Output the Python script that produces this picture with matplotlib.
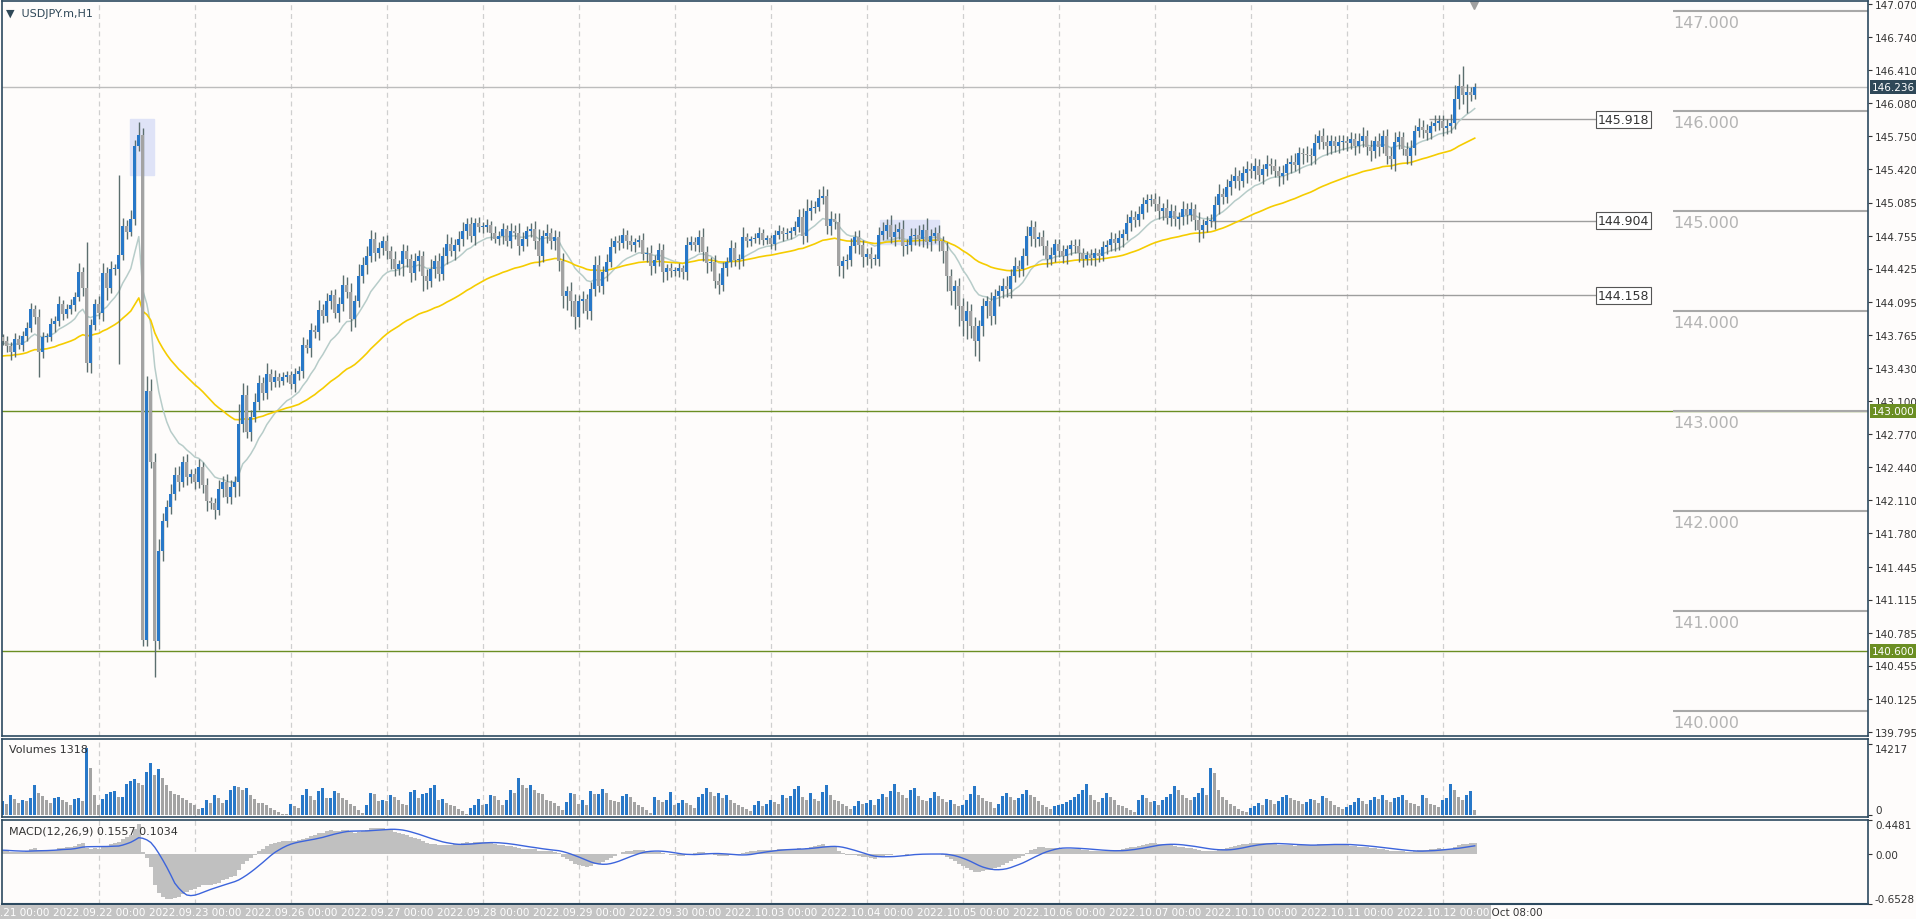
import numpy as np
import pandas as pd
import matplotlib
matplotlib.use("Agg")
import matplotlib.pyplot as plt
from matplotlib.patches import Rectangle

# ---- data (hourly closes) ----
closes = [
    143.70,143.65,143.59,143.72,143.66,143.75,143.83,144.02,143.94,143.59,143.74,143.74,143.87,143.90,144.07,143.97,144.02,144.06,144.14,144.39,144.23,143.48,143.86,144.07,
    143.98,144.38,144.23,144.42,144.42,144.56,144.85,144.79,144.92,145.65,145.76,140.71,143.20,142.49,140.70,141.60,141.90,142.04,142.17,142.36,142.29,142.49,142.34,142.37,
    142.29,142.44,142.26,142.10,142.08,142.01,142.22,142.29,142.14,142.24,142.29,142.87,143.16,142.79,142.94,143.09,143.28,143.18,143.37,143.29,143.34,143.30,143.34,143.36,
    143.27,143.37,143.40,143.66,143.63,143.81,143.79,144.01,143.95,144.10,144.16,143.98,144.07,144.26,144.19,143.92,144.10,144.35,144.46,144.55,144.72,144.58,144.63,144.70,
    144.60,144.52,144.42,144.47,144.60,144.52,144.38,144.50,144.55,144.35,144.30,144.42,144.50,144.37,144.55,144.67,144.60,144.66,144.72,144.80,144.87,144.75,144.88,144.84,
    144.84,144.86,144.78,144.72,144.75,144.82,144.70,144.80,144.78,144.65,144.72,144.80,144.82,144.70,144.55,144.75,144.78,144.70,144.74,144.50,144.15,144.20,144.10,143.94,
    144.10,144.12,144.00,144.22,144.46,144.25,144.39,144.49,144.64,144.70,144.68,144.76,144.70,144.66,144.69,144.71,144.57,144.58,144.45,144.51,144.61,144.39,144.43,144.40,
    144.40,144.43,144.39,144.66,144.69,144.66,144.74,144.59,144.48,144.49,144.30,144.26,144.43,144.49,144.63,144.51,144.52,144.74,144.70,144.72,144.73,144.78,144.71,144.73,
    144.67,144.76,144.80,144.77,144.78,144.80,144.84,144.94,144.75,145.00,145.03,145.04,145.13,145.15,144.85,144.92,144.89,144.45,144.50,144.51,144.65,144.74,144.66,144.54,
    144.57,144.52,144.52,144.76,144.80,144.86,144.74,144.79,144.82,144.65,144.66,144.75,144.76,144.72,144.81,144.69,144.75,144.78,144.70,144.60,144.35,144.20,144.25,144.05,
    143.90,144.00,143.85,143.70,143.85,144.05,144.10,143.95,144.15,144.20,144.25,144.22,144.35,144.45,144.42,144.55,144.75,144.84,144.72,144.74,144.65,144.52,144.56,144.67,
    144.60,144.55,144.62,144.66,144.65,144.58,144.52,144.56,144.53,144.58,144.55,144.64,144.66,144.72,144.68,144.73,144.77,144.88,144.94,144.91,144.97,145.07,145.11,145.12,
    145.07,145.00,145.03,144.93,145.00,144.92,144.94,145.02,144.96,145.02,144.91,144.81,144.86,144.90,144.90,145.06,145.17,145.14,145.24,145.30,145.35,145.30,145.38,145.42,
    145.40,145.45,145.36,145.42,145.47,145.45,145.40,145.35,145.38,145.47,145.49,145.46,145.58,145.57,145.56,145.55,145.68,145.75,145.69,145.65,145.70,145.65,145.69,145.70,
    145.68,145.72,145.65,145.70,145.75,145.64,145.60,145.70,145.64,145.75,145.55,145.52,145.69,145.74,145.62,145.55,145.63,145.80,145.84,145.81,145.78,145.85,145.88,145.90,
    145.83,145.85,145.88,146.12,146.25,146.16,146.19,146.16,146.236,
]
# closes of the bars before the visible window (only feed the moving averages / MACD)
prior_closes = [
    143.20,143.25,143.30,143.22,143.28,143.35,143.40,143.32,143.38,143.45,143.50,143.42,143.48,143.55,143.60,143.52,
    143.45,143.40,143.48,143.55,143.62,143.58,143.50,143.45,143.52,143.60,143.68,143.62,143.55,143.60,143.66,143.70,
    143.64,143.58,143.62,143.68,143.72,143.66,143.60,143.65,143.70,143.76,143.68,143.62,143.66,143.72,143.68,143.74,
]
up_wick = [  # pips above body
    3,5,4,6,4,5,6,6,4,8,5,4,6,5,8,4,5,6,5,9,5,46,6,5,
    8,10,6,8,5,80,8,6,9,6,13,7,15,12,9,12,8,7,10,8,9,6,8,5,
    6,8,5,7,4,5,9,6,8,7,6,20,12,10,7,9,8,6,11,5,7,4,5,4,
    4,6,5,8,6,7,5,10,6,8,5,6,7,10,8,9,6,12,8,10,9,7,6,5,
    6,5,8,4,7,6,5,8,6,5,7,10,6,8,9,10,7,6,8,9,6,7,5,6,
    5,6,4,7,5,6,4,8,6,10,7,5,6,8,12,6,9,5,7,6,8,5,9,7,
    6,8,5,7,9,10,6,8,9,5,6,7,5,6,4,5,7,6,8,5,7,6,4,5,
    4,5,3,8,6,5,7,9,6,5,7,8,6,5,8,6,5,10,4,3,5,6,4,3,
    3,5,6,4,5,4,6,8,9,12,8,6,9,10,7,8,6,9,5,6,8,6,7,5,
    6,7,5,8,9,6,10,8,7,9,6,8,7,10,6,12,7,6,8,5,9,7,6,8,
    8,10,7,9,6,8,5,9,7,6,8,10,7,9,6,8,10,7,6,5,7,6,8,5,
    5,6,4,5,6,7,5,4,6,5,4,6,5,7,6,8,5,9,7,6,8,7,6,5,
    6,8,5,9,7,6,5,8,6,7,5,8,6,5,7,9,10,6,8,7,9,6,7,8,
    6,8,7,5,9,6,7,5,8,6,7,9,6,5,8,7,9,6,8,7,6,5,7,6,
    5,7,6,8,9,6,7,5,8,6,7,9,10,6,5,7,8,6,9,7,6,5,8,6,
    6,7,9,14,12,20,8,5,4,
]
dn_wick = [  # pips below body
    4,6,8,5,4,6,5,4,7,25,6,5,4,8,5,6,4,5,6,4,8,9,10,5,
    6,8,12,5,6,95,5,7,4,6,5,6,6,6,36,8,10,6,7,6,9,5,8,6,
    7,6,8,10,6,9,5,8,6,7,10,14,8,6,9,5,8,7,6,8,5,6,4,5,
    5,8,6,7,5,9,6,8,7,6,8,5,9,7,6,12,8,6,7,9,6,8,5,7,
    8,10,7,6,12,8,9,7,10,15,8,6,9,7,6,8,5,9,6,7,8,6,9,5,
    6,5,7,4,6,8,5,7,6,9,5,7,6,8,10,6,7,8,9,10,12,14,15,12,
    10,12,8,9,7,6,8,9,5,6,7,5,8,6,7,5,6,8,9,7,6,10,8,6,
    5,6,7,8,5,6,7,9,10,8,7,9,6,8,5,6,9,7,6,5,4,6,5,4,
    5,6,4,7,5,6,4,5,8,6,9,5,4,6,8,9,7,10,12,8,6,7,9,10,
    8,9,6,7,5,8,6,9,7,10,8,6,9,7,8,6,9,7,10,12,15,14,18,20,
    15,18,12,15,20,10,12,9,8,10,7,8,9,6,8,7,9,10,8,7,9,8,6,7,
    6,7,8,6,7,9,8,6,7,8,6,5,7,6,8,7,9,6,8,7,6,5,8,6,
    7,8,9,6,8,7,10,8,9,6,10,12,8,7,6,8,9,7,6,8,7,9,6,10,
    7,8,6,9,7,8,6,10,8,7,9,6,8,10,7,9,8,6,7,9,8,6,7,8,
    8,6,9,7,6,8,10,7,9,6,8,10,12,7,6,8,9,7,6,8,7,6,5,7,
    8,6,7,6,10,9,18,6,4,
]
volumes_h = [  # tick volume / 100
    28,22,40,32,25,30,28,34,60,45,38,30,24,34,36,30,26,20,32,35,28,135,95,40,
    20,32,42,46,48,36,36,62,68,72,64,60,86,105,80,92,75,60,48,42,40,35,30,25,
    20,12,15,30,25,40,35,25,30,50,58,56,50,55,40,32,25,24,20,14,10,6,3,2,
    22,18,15,40,52,38,30,48,55,34,34,48,45,35,30,22,18,10,5,20,45,42,28,30,
    28,40,36,30,22,20,46,50,35,42,45,55,60,30,32,25,20,18,12,8,2,15,20,32,
    20,22,40,38,30,20,30,50,45,75,60,55,60,50,44,42,30,28,24,18,10,26,44,42,
    22,30,20,48,42,42,52,45,30,28,26,38,42,36,26,20,16,10,5,36,30,26,30,46,
    20,24,30,25,20,14,36,42,55,46,38,44,34,40,30,24,20,16,12,8,20,28,18,22,
    30,26,22,40,35,38,52,58,36,30,44,32,28,46,60,40,30,28,22,18,12,18,28,22,
    24,30,20,32,42,36,48,62,46,40,34,50,55,38,30,28,34,46,38,32,26,30,22,18,
    20,30,42,58,40,34,28,26,15,22,38,45,36,30,34,42,50,40,36,28,20,16,12,18,
    20,22,26,30,36,42,50,62,40,30,26,34,44,36,30,20,18,14,10,6,30,40,35,26,
    28,20,30,36,42,58,50,40,34,30,36,44,54,40,95,85,50,36,30,22,18,12,8,6,
    14,18,24,20,32,30,22,28,36,40,34,30,28,22,26,32,30,24,38,34,28,20,16,12,
    16,20,26,34,28,22,30,36,32,40,30,26,34,36,40,30,24,22,18,40,34,22,20,16,
    30,34,62,50,36,30,40,48,10,
]
day_labels = ["2022.09.21", "2022.09.22", "2022.09.23", "2022.09.26", "2022.09.27", "2022.09.28",
              "2022.09.29", "2022.09.30", "2022.10.03", "2022.10.04", "2022.10.05", "2022.10.06",
              "2022.10.07", "2022.10.10", "2022.10.11", "2022.10.12"]
mid_labels = ["21 Sep", "22 Sep", "23 Sep", "26 Sep", "27 Sep", "28 Sep", "29 Sep", "30 Sep",
              "3 Oct", "4 Oct", "5 Oct", "6 Oct", "7 Oct", "10 Oct", "11 Oct"]
price_ticks = [147.070, 146.740, 146.410, 146.080, 145.750, 145.420, 145.085, 144.755, 144.425,
               144.095, 143.765, 143.430, 143.100, 142.770, 142.440, 142.110, 141.780, 141.445,
               141.115, 140.785, 140.455, 140.125, 139.795]
round_levels = [147, 146, 145, 144, 143, 142, 141, 140]
level_lines = [(145.918, 356.6), (144.904, 301.8), (144.158, 250.0)]
bid = 146.236
green_levels = [143.000, 140.600]

# ---- derived series ----
c = np.array(closes)
n = len(c)
o = np.concatenate([[prior_closes[-1]], c[:-1]])
hi = np.maximum(o, c) + np.array(up_wick) / 100
lo = np.minimum(o, c) - np.array(dn_wick) / 100
vol = np.array(volumes_h) * 100
full = pd.Series(list(prior_closes) + closes)
ma_fast = full.ewm(span=14, adjust=False).mean().values[-n:]
ma_slow = full.ewm(span=50, adjust=False).mean().values[-n:]
macd = (full.ewm(span=12, adjust=False).mean() - full.ewm(span=26, adjust=False).mean())
signal = macd.rolling(9).mean()
macd = macd.values[-n:]
signal = signal.values[-n:]
x = np.arange(n)

BG = "#fefcfb"
BULL = "#2878c8"
BEAR = "#a3a3a3"
WICK = "#5b6e6e"
FRAME = "#2d4a60"
W, H = 1916, 920

fig = plt.figure(figsize=(W / 100, H / 100), dpi=100, facecolor=BG)
plt.rcParams["font.family"] = ["DejaVu Sans"]


def px_axes(x0, y0, x1, y1):
    return fig.add_axes([x0 / W, 1 - y1 / H, (x1 - x0) / W, (y1 - y0) / H], facecolor=BG)


ax = px_axes(2, 2, 1868, 737)
axv = px_axes(2, 740, 1868, 818)
axm = px_axes(2, 821, 1868, 905)
XMAX = (1868 - 2.7) / 4
for a in (ax, axv, axm):
    a.set_xlim(-0.2, XMAX)
    for s in a.spines.values():
        s.set_color(FRAME)
        s.set_linewidth(1.2)
    a.yaxis.tick_right()
    a.tick_params(axis="y", labelsize=7.5, length=3, colors="#333333", pad=2)
    a.tick_params(axis="x", length=0, labelbottom=False)
    for d in range(1, len(day_labels)):
        a.axvline(d * 24, color="#cfcfcf", lw=0.9, ls=(0, (4, 3)), zorder=0)
axm.spines["bottom"].set_linewidth(1.5)

# ---- main price panel ----
ax.set_ylim(139.75, 147.10)
ax.set_yticks(price_ticks)
ax.set_yticklabels([f"{t:.3f}" for t in price_ticks])

ax.add_patch(Rectangle((31.8, 145.36), 6.0, 0.56, color="#dfe3f7", zorder=1))
ax.add_patch(Rectangle((219.3, 144.67), 14.7, 0.24, color="#dfe3f7", zorder=1))

up = c >= o
ax.vlines(x, lo, hi, color=WICK, lw=1, zorder=3)
body = np.where(np.abs(c - o) < 0.012, 0.012, np.abs(c - o))
ax.bar(x, body, bottom=np.minimum(o, c), width=0.72, color=np.where(up, BULL, BEAR), zorder=4, linewidth=0)
ax.plot(x, ma_fast, color="#b7ccc9", lw=1.1, zorder=2)
ax.plot(x, ma_slow, color="#f5cc00", lw=1.2, zorder=2)

ax.axhline(bid, color="#bdbdbd", lw=1, zorder=1)
for g in green_levels:
    ax.axhline(g, color="#6b8e23", lw=1, zorder=1)

x_round = (1673 - 2.7) / 4
for r in round_levels:
    ax.hlines(r, x_round, XMAX, color="#a8a8a8", lw=1.5, zorder=1)
    ax.text(x_round, r - 0.04, f"{r:.3f}", color="#b4b4b4", fontsize=11.5, va="top", ha="left")

for val, xs in level_lines:
    ax.hlines(val, xs, (1596 - 2.7) / 4, color="#9e9e9e", lw=1, zorder=1)
    ax.text((1598 - 2.7) / 4, val, f"{val:.3f}", fontsize=9, color="#333333", va="center", ha="left",
            bbox=dict(boxstyle="square,pad=0.15", fc="white", ec="#555555", lw=0.8))

ax.text(1.002, bid, f"{bid:.3f}", transform=ax.get_yaxis_transform(), fontsize=7.5, color="white",
        va="center", ha="left", bbox=dict(boxstyle="square,pad=0.2", fc="#2f4858", ec="none"))
for g in green_levels:
    ax.text(1.002, g, f"{g:.3f}", transform=ax.get_yaxis_transform(), fontsize=7.5, color="white",
            va="center", ha="left", bbox=dict(boxstyle="square,pad=0.2", fc="#6b8e23", ec="none"))

ax.plot([(1474 - 2.7) / 4], [147.06], marker="v", color="#a0a0a0", ms=6, clip_on=False)
ax.text(0.002, 0.99, "\u25BC  USDJPY.m,H1", transform=ax.transAxes, fontsize=8, color="#2f4858",
        va="top", ha="left")

# ---- volumes ----
vcol = [BULL if i == 0 or vol[i] >= vol[i - 1] else BEAR for i in range(n)]
axv.bar(x, vol, width=0.72, color=vcol, linewidth=0)
axv.set_ylim(-350, 15300)
axv.set_yticks([0, 14217])
axv.set_yticklabels(["0", "14217"])
axv.get_yticklabels()[0].set_va("bottom")
axv.get_yticklabels()[1].set_va("top")
axv.text(0.004, 0.93, "Volumes 1318", transform=axv.transAxes, fontsize=8, color="#333333", va="top")

# ---- MACD ----
axm.bar(x, macd, width=1.0, color="#c0c0c0", linewidth=0)
axm.plot(x, signal, color="#3c64dc", lw=1)
axm.set_ylim(-0.6528, 0.4481)
axm.set_yticks([0.4481, 0.0, -0.6528])
axm.set_yticklabels(["0.4481", "0.00", "-0.6528"])
axm.get_yticklabels()[0].set_va("top")
axm.get_yticklabels()[2].set_va("bottom")
axm.text(0.004, 0.93, "MACD(12,26,9) 0.1557 0.1034", transform=axm.transAxes, fontsize=8,
         color="#333333", va="top")

# ---- time axis labels ----
ty = 1 - 913 / H
for d, m in enumerate(mid_labels):
    xi = d * 24 + 12
    fx = (2 + (xi + 0.2) / (XMAX + 0.2) * 1866) / W
    fig.text(fx, ty, f"{m} 12:00", fontsize=7.5, color="#333333", ha="center", va="center")
fx = (2 + (n - 1 + 0.2) / (XMAX + 0.2) * 1866) / W
fig.text(fx, ty, "12 Oct 08:00", fontsize=7.5, color="#333333", ha="left", va="center")
for d, lab in enumerate(day_labels):
    xi = d * 24
    fx = (2 + (xi + 0.2) / (XMAX + 0.2) * 1866) / W
    fig.text(fx, ty, f"{lab} 00:00", fontsize=7.5, color="white", ha="center", va="center",
             bbox=dict(boxstyle="square,pad=0.2", fc="#c4c4c4", ec="none"))

fig.savefig("out.png", dpi=100, facecolor=BG)
